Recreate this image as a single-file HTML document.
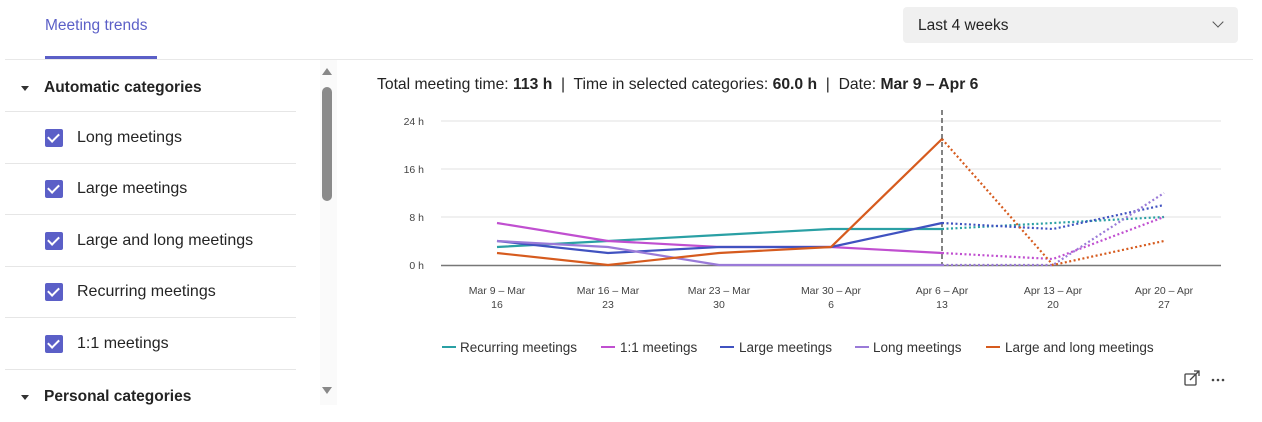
<!DOCTYPE html>
<html><head><style>
body{margin:0;width:1262px;height:422px;background:#fff;font-family:"Liberation Sans",sans-serif;color:#242424;overflow:hidden;position:relative}
.a{position:absolute}
.cb{position:absolute;left:45px;width:18px;height:18px;background:#5b5fc7;border-radius:2px}
.cb:after{content:"";position:absolute;left:5px;top:2px;width:5px;height:9px;border:solid #fff;border-width:0 2px 2px 0;transform:rotate(45deg)}
.it{position:absolute;left:77px;font-size:16px}
.sep{position:absolute;left:5px;width:291px;height:1px;background:#e6e6e6}
</style></head><body>
<div class="a" style="left:45px;top:17px;font-size:15.5px;color:#5b5fc7">Meeting trends</div>
<div class="a" style="left:45px;top:56px;width:112px;height:3px;background:#5b5fc7"></div>
<div class="a" style="left:5px;top:59px;width:1248px;height:1px;background:#e8e8e8"></div>
<div class="a" style="left:903px;top:7px;width:335px;height:36px;background:#f0f0f0;border-radius:4px"></div>
<div class="a" style="left:918px;top:17px;font-size:15.5px">Last 4 weeks</div>
<div class="a" style="left:1214px;top:18px;width:7px;height:7px;border:solid #555;border-width:0 1.5px 1.5px 0;transform:rotate(45deg)"></div>
<div class="a" style="left:320px;top:60px;width:17px;height:345px;background:#fafafa"></div>
<div class="a" style="left:322px;top:87px;width:10px;height:114px;background:#8a8a8a;border-radius:5px"></div>
<div class="a" style="left:322px;top:68px;width:0;height:0;border:5px solid transparent;border-bottom:7px solid #888;border-top:0"></div>
<div class="a" style="left:322px;top:387px;width:0;height:0;border:5px solid transparent;border-top:7px solid #888;border-bottom:0"></div>
<div class="a" style="left:21px;top:86px;border:4px solid transparent;border-top:5px solid #333;border-bottom:0"></div>
<div class="a" style="left:44px;top:79px;font-size:15.5px;font-weight:bold">Automatic categories</div>
<div class="sep" style="top:111px"></div>
<div class="cb" style="top:129px"></div><div class="it" style="top:129px">Long meetings</div>
<div class="sep" style="top:163px"></div>
<div class="cb" style="top:180px"></div><div class="it" style="top:180px">Large meetings</div>
<div class="sep" style="top:214px"></div>
<div class="cb" style="top:232px"></div><div class="it" style="top:232px">Large and long meetings</div>
<div class="sep" style="top:266px"></div>
<div class="cb" style="top:283px"></div><div class="it" style="top:283px">Recurring meetings</div>
<div class="sep" style="top:317px"></div>
<div class="cb" style="top:335px"></div><div class="it" style="top:335px">1:1 meetings</div>
<div class="sep" style="top:369px"></div>
<div class="a" style="left:21px;top:395px;border:4px solid transparent;border-top:5px solid #333;border-bottom:0"></div>
<div class="a" style="left:44px;top:388px;font-size:15.5px;font-weight:bold">Personal categories</div>
<div class="a" style="left:377px;top:76px;font-size:15.7px;white-space:nowrap">Total meeting time: <b>113 h</b> &nbsp;|&nbsp; Time in selected categories: <b>60.0 h</b> &nbsp;|&nbsp; Date: <b>Mar 9 – Apr 6</b></div>
<svg class="a" style="left:0;top:0" width="1262" height="422" font-family="Liberation Sans, sans-serif">
<g stroke="#ebebeb" stroke-width="1.5"><line x1="441" y1="121" x2="1221" y2="121"/><line x1="441" y1="169" x2="1221" y2="169"/><line x1="441" y1="217" x2="1221" y2="217"/></g>
<line x1="441" y1="265.5" x2="1221" y2="265.5" stroke="#777" stroke-width="1.5"/>
<g font-size="10.5" fill="#444" text-anchor="end"><text x="424" y="125">24 h</text><text x="424" y="173">16 h</text><text x="424" y="221">8 h</text><text x="424" y="269">0 h</text></g>
<g font-size="10.5" fill="#444" text-anchor="middle">
<text x="497" y="294">Mar 9 – Mar</text><text x="497" y="308">16</text>
<text x="608" y="294">Mar 16 – Mar</text><text x="608" y="308">23</text>
<text x="719" y="294">Mar 23 – Mar</text><text x="719" y="308">30</text>
<text x="831" y="294">Mar 30 – Apr</text><text x="831" y="308">6</text>
<text x="942" y="294">Apr 6 – Apr</text><text x="942" y="308">13</text>
<text x="1053" y="294">Apr 13 – Apr</text><text x="1053" y="308">20</text>
<text x="1164" y="294">Apr 20 – Apr</text><text x="1164" y="308">27</text></g>
<line x1="942" y1="110" x2="942" y2="265" stroke="#333" stroke-width="1.2" stroke-dasharray="5,3"/>
<g fill="none" stroke-width="2.2">
<polyline stroke="#2aa0a4" points="497,247 608,241 719,235 831,229 942,229"/>
<polyline stroke="#c04fd0" points="497,223 608,241 719,247 831,247 942,253"/>
<polyline stroke="#4052c0" points="497,241 608,253 719,247 831,247 942,223"/>
<polyline stroke="#9a7ad8" points="497,241 608,247 719,265 831,265 942,265"/>
<polyline stroke="#d65b1e" points="497,253 608,265 719,253 831,247 942,139"/>
</g>
<g fill="none" stroke-width="2.2" stroke-dasharray="2,2.5">
<polyline stroke="#2aa0a4" points="942,229 1053,223 1164,217"/>
<polyline stroke="#c04fd0" points="942,253 1053,259 1164,217"/>
<polyline stroke="#4052c0" points="942,223 1053,229 1164,205"/>
<polyline stroke="#9a7ad8" points="942,265 1053,265 1164,193"/>
<polyline stroke="#d65b1e" points="942,139 1053,265 1164,241"/>
</g>
<g font-size="13.5" fill="#333">
<line x1="442" y1="347" x2="456" y2="347" stroke="#2aa0a4" stroke-width="2"/><text x="460" y="352">Recurring meetings</text>
<line x1="601" y1="347" x2="615" y2="347" stroke="#c04fd0" stroke-width="2"/><text x="620" y="352">1:1 meetings</text>
<line x1="720" y1="347" x2="734" y2="347" stroke="#4052c0" stroke-width="2"/><text x="739" y="352">Large meetings</text>
<line x1="855" y1="347" x2="869" y2="347" stroke="#9a7ad8" stroke-width="2"/><text x="873" y="352">Long meetings</text>
<line x1="986" y1="347" x2="1000" y2="347" stroke="#d65b1e" stroke-width="2"/><text x="1005" y="352">Large and long meetings</text>
</g>
<g stroke="#444" fill="none" stroke-width="1.3"><rect x="1185" y="374" width="11" height="11" rx="1"/><path d="M1190 380 L1199 371 M1194 371 h5 v5"/></g>
<g fill="#444"><circle cx="1213" cy="380" r="1.3"/><circle cx="1218" cy="380" r="1.3"/><circle cx="1223" cy="380" r="1.3"/></g>
</svg>
</body></html>
